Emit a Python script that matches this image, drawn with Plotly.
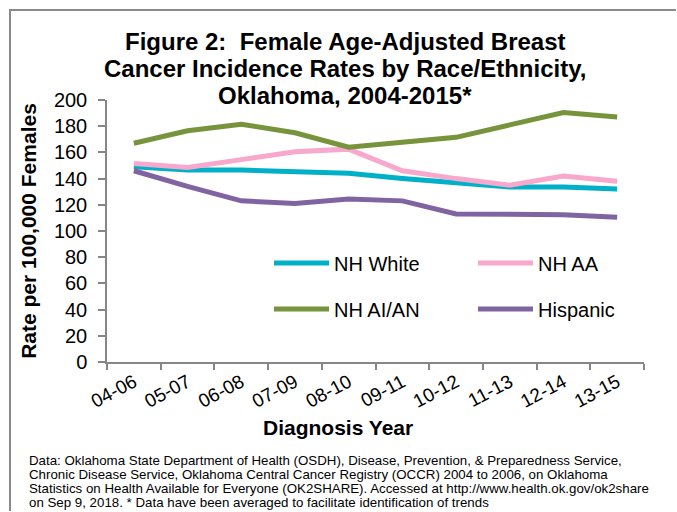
import plotly.graph_objects as go

periods = ["04-06", "05-07", "06-08", "07-09", "08-10", "09-11", "10-12", "11-13", "12-14", "13-15"]
nh_white = [149, 146.5, 146.5, 145.5, 144, 140, 136.5, 133.5, 133.5, 132]
nh_aa = [151.5, 148.5, 154.5, 160.5, 162.5, 146, 140, 135, 142, 138]
nh_aian = [167, 176.5, 181.5, 175, 164, 167.5, 171.5, 181, 190.5, 187]
hispanic = [146, 134, 123, 121, 124.5, 123, 113, 112.5, 112.5, 110.5]

title_lines = [
    "Figure 2:  Female Age-Adjusted Breast",
    "Cancer Incidence Rates by Race/Ethnicity,",
    "Oklahoma, 2004-2015*",
]
note_lines = [
    "Data: Oklahoma State Department of Health (OSDH), Disease, Prevention, & Preparedness Service,",
    "Chronic Disease Service, Oklahoma Central Cancer Registry (OCCR) 2004 to 2006, on Oklahoma",
    "Statistics on Health Available for Everyone (OK2SHARE). Accessed at http://www.health.ok.gov/ok2share",
    "on Sep 9, 2018. * Data have been averaged to facilitate identification of trends",
]

FONT = "Liberation Sans, Arial, sans-serif"
series = [
    ("NH White", nh_white, "#00AFC8", "legend"),
    ("NH AA", nh_aa, "#F7A8CC", "legend"),
    ("NH AI/AN", nh_aian, "#77933C", "legend2"),
    ("Hispanic", hispanic, "#8064A2", "legend2"),
]

fig = go.Figure()
for name, vals, col, lg in series:
    fig.add_trace(go.Scatter(
        x=periods, y=vals, name=name, mode="lines",
        line=dict(color=col, width=5), legend=lg,
    ))

# plot area: x 107..644, y 100..362 px
W, H = 677, 512
L, R, T, B = 107, 33, 100, 150
pw, ph = W - L - R, H - T - B

def px_x(p):
    return (p - L) / pw

def px_y(p):
    return (H - B - p) / ph

leg = dict(
    orientation="h", xanchor="left", yanchor="middle",
    font=dict(family=FONT, size=20, color="black"),
    itemwidth=55, entrywidth=134, bgcolor="rgba(0,0,0,0)",
)

annotations = []
for i, t in enumerate(title_lines):
    annotations.append(dict(
        text=t, xref="paper", yref="paper", x=px_x(345), y=px_y(41 + 27 * i),
        xanchor="center", yanchor="middle", showarrow=False,
        font=dict(family=FONT, size=24, color="black", weight="bold"),
    ))
for i, t in enumerate(note_lines):
    annotations.append(dict(
        text=t, xref="paper", yref="paper", x=px_x(27), y=px_y(460 + 14.3 * i),
        xanchor="left", yanchor="middle", showarrow=False,
        font=dict(family=FONT, size=13.3, color="black"),
    ))
annotations.append(dict(
    text="Diagnosis Year", xref="paper", yref="paper", x=px_x(338), y=px_y(428),
    xanchor="center", yanchor="middle", showarrow=False,
    font=dict(family=FONT, size=21, color="black", weight="bold"),
))

# open frame along the top and left edges of the page
frame_path = "M{},{} L{},{} L{},{}".format(
    px_x(10), px_y(H - 1), px_x(10), px_y(10), px_x(W - 1), px_y(10)
)

fig.update_layout(
    width=W, height=H,
    margin=dict(l=L, r=R, t=T, b=B, autoexpand=False),
    paper_bgcolor="white", plot_bgcolor="white",
    font=dict(family=FONT, color="black"),
    legend=dict(leg, x=px_x(269), y=px_y(263)),
    legend2=dict(leg, x=px_x(269), y=px_y(309)),
    xaxis=dict(
        type="category", range=[-0.5, 9.5], tickson="boundaries",
        showline=True, linecolor="#868686", linewidth=1.5,
        ticks="outside", ticklen=6, tickcolor="#868686", tickwidth=1.5,
        tickangle=-28, tickfont=dict(size=19, family=FONT),
        showgrid=False, zeroline=False,
    ),
    yaxis=dict(
        range=[0, 200], dtick=20,
        showline=True, linecolor="#868686", linewidth=1.5,
        ticks="outside", ticklen=7, tickcolor="#868686", tickwidth=1.5,
        ticklabelstandoff=7,
        tickfont=dict(size=20, family=FONT),
        showgrid=False, zeroline=False,
        title=dict(text="Rate per 100,000 Females", font=dict(size=21, family=FONT, weight="bold"), standoff=12),
    ),
    shapes=[
        dict(type="path", xref="paper", yref="paper", layer="above",
             path=frame_path, line=dict(color="#8a8a8a", width=2)),
    ],
    annotations=annotations,
)

fig.write_html(
    "out.html",
    config={"displayModeBar": False},
    post_script=(
        "document.body.style.margin='0';"
        "document.body.style.overflow='hidden';"
        "document.documentElement.style.overflow='hidden';"
    ),
)
